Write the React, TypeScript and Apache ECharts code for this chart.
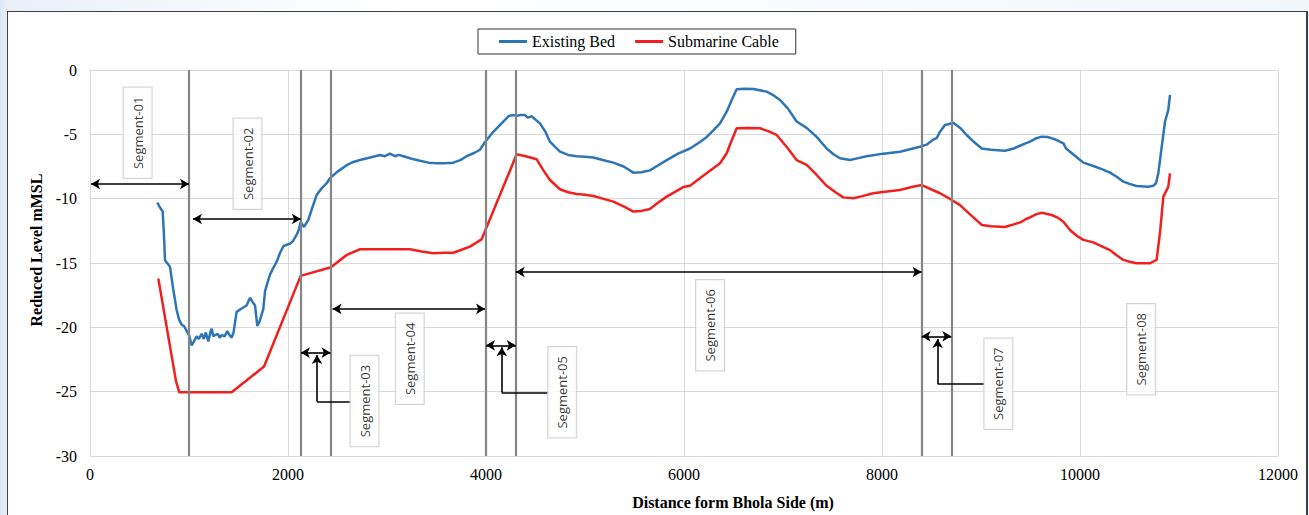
import React, { useEffect, useRef } from "react";
import * as echarts from "echarts";

const bedDistance = [680, 700, 734, 745, 758, 790, 808, 840, 875, 900, 926, 950, 977, 1000, 1027, 1050, 1077, 1100, 1128, 1150, 1170, 1195, 1215, 1229, 1245, 1263, 1290, 1310, 1330, 1360, 1387, 1410, 1431, 1450, 1481, 1520, 1560, 1582, 1616, 1640, 1667, 1690, 1710, 1734, 1750, 1768, 1790, 1818, 1850, 1886, 1920, 1953, 1980, 2020, 2050, 2088, 2110, 2128, 2162, 2205, 2250, 2290, 2340, 2391, 2424, 2500, 2593, 2660, 2727, 2830, 2929, 2980, 3030, 3080, 3120, 3165, 3250, 3333, 3420, 3502, 3580, 3670, 3740, 3805, 3880, 3939, 3990, 4074, 4150, 4226, 4270, 4310, 4350, 4394, 4420, 4460, 4545, 4600, 4646, 4700, 4747, 4830, 4916, 5000, 5084, 5180, 5286, 5390, 5488, 5570, 5656, 5740, 5825, 5940, 6061, 6162, 6230, 6296, 6364, 6431, 6490, 6532, 6620, 6700, 6835, 6900, 6970, 7050, 7138, 7239, 7340, 7441, 7510, 7576, 7677, 7760, 7845, 8013, 8182, 8384, 8450, 8519, 8552, 8586, 8636, 8680, 8720, 8790, 8855, 8930, 9007, 9100, 9242, 9330, 9411, 9450, 9495, 9560, 9613, 9670, 9714, 9780, 9832, 9860, 9899, 9970, 10034, 10135, 10220, 10303, 10370, 10438, 10500, 10572, 10690, 10740, 10768, 10791, 10825, 10859, 10892, 10909];
const bedLevel = [-10.3, -10.6, -11.0, -12.5, -14.8, -15.1, -15.3, -17.0, -18.65, -19.4, -19.8, -19.9, -20.3, -20.6, -21.4, -21.1, -20.7, -20.9, -20.5, -20.9, -20.4, -21.1, -20.4, -20.1, -20.7, -20.6, -20.5, -20.8, -20.6, -20.7, -20.3, -20.6, -20.8, -20.4, -18.8, -18.6, -18.4, -18.3, -17.7, -18.0, -18.3, -19.9, -19.6, -19.0, -18.6, -17.2, -16.6, -15.9, -15.4, -14.9, -14.2, -13.7, -13.6, -13.5, -13.3, -12.8, -12.4, -11.8, -12.2, -11.65, -10.6, -9.7, -9.2, -8.8, -8.4, -7.9, -7.4, -7.15, -7.0, -6.8, -6.6, -6.7, -6.5, -6.7, -6.6, -6.7, -6.9, -7.05, -7.2, -7.25, -7.25, -7.2, -7.0, -6.7, -6.45, -6.2, -5.6, -4.8, -4.2, -3.6, -3.5, -3.55, -3.5, -3.5, -3.7, -3.6, -4.15, -4.8, -5.57, -6.0, -6.35, -6.6, -6.7, -6.75, -6.8, -7.0, -7.2, -7.5, -7.98, -7.95, -7.8, -7.4, -7.0, -6.5, -6.1, -5.6, -5.2, -4.7, -4.15, -3.24, -2.2, -1.5, -1.45, -1.48, -1.68, -1.95, -2.33, -3.0, -4.0, -4.5, -5.2, -6.1, -6.55, -6.86, -7.0, -6.85, -6.7, -6.5, -6.35, -5.96, -5.8, -5.4, -5.3, -4.8, -4.27, -4.2, -4.1, -4.5, -5.05, -5.6, -6.1, -6.2, -6.27, -6.1, -5.83, -5.7, -5.57, -5.3, -5.18, -5.2, -5.3, -5.5, -5.7, -6.1, -6.35, -6.8, -7.2, -7.46, -7.7, -7.98, -8.3, -8.68, -8.85, -9.01, -9.07, -9.0, -8.8, -8.03, -6.0, -4.0, -3.1, -1.94];

const cableDistance = [690, 869, 902, 1431, 1758, 2128, 2434, 2593, 2727, 3232, 3350, 3468, 3570, 3670, 3760, 3838, 3956, 4310, 4400, 4512, 4580, 4646, 4747, 4830, 4916, 5000, 5084, 5180, 5286, 5390, 5488, 5570, 5656, 5740, 5825, 5993, 6061, 6180, 6296, 6364, 6431, 6480, 6532, 6650, 6768, 6850, 6936, 7040, 7138, 7239, 7340, 7441, 7530, 7609, 7710, 7800, 7912, 8050, 8182, 8300, 8401, 8586, 8704, 8788, 8900, 9007, 9100, 9242, 9330, 9411, 9450, 9495, 9560, 9613, 9714, 9780, 9832, 9899, 9970, 10034, 10135, 10220, 10303, 10370, 10438, 10500, 10572, 10707, 10774, 10810, 10842, 10892, 10909];
const cableLevel = [-16.2, -24.2, -25.05, -25.05, -23.05, -16.0, -15.33, -14.37, -13.93, -13.93, -14.1, -14.24, -14.2, -14.2, -13.95, -13.73, -13.16, -6.55, -6.7, -6.94, -7.8, -8.55, -9.27, -9.5, -9.63, -9.7, -9.79, -10.0, -10.23, -10.6, -11.0, -10.95, -10.8, -10.3, -9.84, -9.1, -9.0, -8.3, -7.64, -7.25, -6.47, -5.5, -4.53, -4.5, -4.53, -4.75, -5.05, -6.0, -7.0, -7.38, -8.16, -9.0, -9.5, -9.9, -9.97, -9.8, -9.58, -9.45, -9.32, -9.1, -8.94, -9.58, -10.1, -10.5, -11.3, -12.04, -12.15, -12.2, -12.0, -11.8, -11.6, -11.45, -11.2, -11.1, -11.27, -11.5, -11.8, -12.43, -12.9, -13.2, -13.4, -13.7, -14.0, -14.4, -14.76, -14.9, -15.02, -15.02, -14.76, -12.5, -9.84, -9.07, -8.03];

const xTicks = [0, 2000, 4000, 6000, 8000, 10000, 12000];
const yTicks = [0, -5, -10, -15, -20, -25, -30];

const segmentBoundaries = [1000, 2130, 2430, 4000, 4300, 8400, 8700];
const segmentNames = ["Segment-01", "Segment-02", "Segment-03", "Segment-04", "Segment-05", "Segment-06", "Segment-07", "Segment-08"];
const segmentArrowFrom = [10, 1040, 2130, 2450, 4000, 4300, 8400, 8700];
const segmentArrowTo = [1000, 2130, 2430, 3990, 4300, 8400, 8700, 12040];
const segmentArrowLevel = [-8.86, -11.58, -21.97, -18.57, -21.4, -15.7, -20.7, -17.77];
const segmentLabelDistance = [481, 1591, 2773, 3230, 4770, 6263, 9175, 10618];
const segmentLabelLevel = [-4.88, -7.29, -25.73, -22.45, -25.05, -19.84, -24.38, -21.7];

const calloutDistance = [2293, 4159, 8562];
const calloutTipLevel = [-22.15, -21.55, -20.9];
const calloutElbowLevel = [-25.77, -25.07, -24.4];
const calloutEnd = [2633, 4623, 9030];

const SERIF = '"Liberation Serif", "Times New Roman", serif';

export default function App() {
  const ref = useRef<HTMLDivElement>(null);
  useEffect(() => {
    if (!ref.current) return;
    const chart = echarts.init(ref.current, undefined, { renderer: "svg" });
    const bed = bedDistance.map((d, i) => [d, bedLevel[i]]);
    const cable = cableDistance.map((d, i) => [d, cableLevel[i]]);

    const boundaryLines = segmentBoundaries.map((b) => [
      { coord: [b, yTicks[0]] },
      { coord: [b, yTicks[yTicks.length - 1]] },
    ]);
    const arrowLines = segmentArrowFrom.map((f, i) => [
      { coord: [f, segmentArrowLevel[i]] },
      { coord: [segmentArrowTo[i], segmentArrowLevel[i]] },
    ]);
    const calloutVertical = calloutDistance.map((d, i) => [
      { coord: [d, calloutElbowLevel[i]] },
      { coord: [d, calloutTipLevel[i]] },
    ]);
    const calloutHorizontal = calloutDistance.map((d, i) => [
      { coord: [d, calloutElbowLevel[i]] },
      { coord: [calloutEnd[i], calloutElbowLevel[i]] },
    ]);

    chart.setOption({
      animation: false,
      grid: { left: 90, right: 31, top: 70, bottom: 59, containLabel: false },
      legend: {
        data: ["Existing Bed", "Submarine Cable"],
        left: 478,
        top: 29,
        icon: "rect",
        itemWidth: 28,
        itemHeight: 3,
        itemGap: 20,
        padding: [4, 17, 4, 21],
        borderColor: "#333",
        borderWidth: 1,
        textStyle: { fontFamily: SERIF, fontSize: 16, color: "#000", lineHeight: 17 },
      },
      xAxis: {
        type: "value",
        min: xTicks[0],
        max: xTicks[xTicks.length - 1],
        interval: 2000,
        axisLine: { show: true, lineStyle: { color: "#d9d9d9", width: 1 } },
        axisTick: { show: false },
        splitLine: { show: true, lineStyle: { color: "#d9d9d9", width: 1 } },
        axisLabel: { fontFamily: SERIF, fontSize: 16, color: "#000", margin: 10, formatter: (v: number) => String(v) },
      },
      yAxis: {
        type: "value",
        min: yTicks[yTicks.length - 1],
        max: yTicks[0],
        interval: 5,
        axisLine: { show: true, lineStyle: { color: "#d9d9d9", width: 1 } },
        axisTick: { show: false },
        splitLine: { show: true, lineStyle: { color: "#d9d9d9", width: 1 } },
        axisLabel: { fontFamily: SERIF, fontSize: 16, color: "#000", margin: 13, formatter: (v: number) => String(v) },
      },
      graphic: [
        {
          type: "text",
          x: 36,
          y: 250,
          rotation: Math.PI / 2,
          style: {
            text: "Reduced Level mMSL",
            font: 'bold 16px "Liberation Serif", "Times New Roman", serif',
            fill: "#000",
            align: "center",
            verticalAlign: "middle",
          },
        },
        {
          type: "text",
          x: 733,
          y: 502,
          style: {
            text: "Distance form Bhola Side (m)",
            font: 'bold 16px "Liberation Serif", "Times New Roman", serif',
            fill: "#000",
            align: "center",
            verticalAlign: "middle",
          },
        },
      ],
      series: [
        {
          name: "boundaries",
          type: "scatter",
          data: [],
          silent: true,
          z: 1,
          markLine: {
            silent: true,
            symbol: ["none", "none"],
            label: { show: false },
            lineStyle: { color: "#858585", width: 2.2, type: "solid" },
            data: boundaryLines,
          },
        },
        {
          name: "Existing Bed",
          type: "line",
          data: bed,
          symbol: "none",
          showSymbol: false,
          z: 3,
          color: "#2e75b6",
          lineStyle: { color: "#2e75b6", width: 2.5 },
        },
        {
          name: "Submarine Cable",
          type: "line",
          data: cable,
          symbol: "none",
          showSymbol: false,
          z: 3,
          color: "#f0201e",
          lineStyle: { color: "#f0201e", width: 2.5 },
        },
        {
          name: "arrows",
          type: "scatter",
          data: [],
          silent: true,
          z: 4,
          markLine: {
            silent: true,
            symbol: ["arrow", "arrow"],
            symbolSize: [8, 9],
            label: { show: false },
            lineStyle: { color: "#000", width: 1.6, type: "solid" },
            data: arrowLines,
          },
        },
        {
          name: "calloutVertical",
          type: "scatter",
          data: [],
          silent: true,
          z: 4,
          markLine: {
            silent: true,
            symbol: ["none", "arrow"],
            symbolSize: [8, 9],
            label: { show: false },
            lineStyle: { color: "#000", width: 1.6, type: "solid" },
            data: calloutVertical,
          },
        },
        {
          name: "calloutHorizontal",
          type: "scatter",
          data: [],
          silent: true,
          z: 4,
          markLine: {
            silent: true,
            symbol: ["none", "none"],
            label: { show: false },
            lineStyle: { color: "#000", width: 1.6, type: "solid" },
            data: calloutHorizontal,
          },
        },
        {
          name: "labels",
          type: "scatter",
          data: segmentLabelDistance.map((d, i) => [d, segmentLabelLevel[i]]),
          symbolSize: 1,
          itemStyle: { color: "rgba(0,0,0,0)" },
          silent: true,
          z: 5,
          label: {
            show: true,
            position: "inside",
            rotate: 90,
            formatter: (p: any) => segmentNames[p.dataIndex],
            fontFamily: '"Open Sans", "Noto Sans", sans-serif',
            fontSize: 13,
            color: "#000",
            textBorderWidth: 0,
            textBorderColor: "transparent",
            backgroundColor: "#fff",
            borderColor: "#c8c8c8",
            borderWidth: 1,
            padding: [6, 9, 5, 9],
            lineHeight: 17,
          },
        },
      ],
    });
    return () => chart.dispose();
  }, []);

  return (
    <div
      style={{
        position: "absolute",
        left: 0,
        top: 0,
        width: 1309,
        height: 515,
        overflow: "hidden",
        background: "linear-gradient(90deg, #dae6f3 0px, #e9f0f8 7px, #ffffff 30%, #f1f6fb 100%)",
      }}
    >
      <div
        style={{
          position: "absolute",
          left: 7,
          top: 11,
          width: 1301,
          height: 520,
          background: "#fff",
          borderLeft: "1.5px solid #404040",
          borderTop: "1.5px solid #404040",
          borderRight: "2px solid #404040",
          boxSizing: "border-box",
        }}
      />
      <div ref={ref} style={{ position: "absolute", left: 0, top: 0, width: 1309, height: 515 }} />
    </div>
  );
}
